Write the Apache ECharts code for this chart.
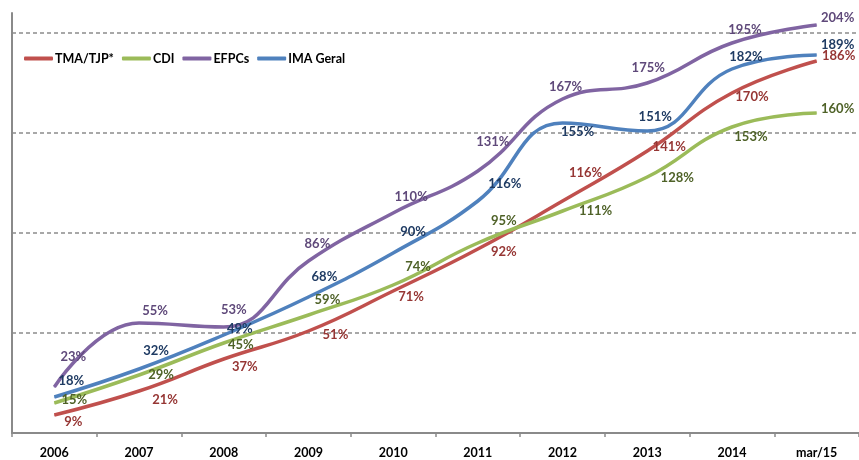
<!DOCTYPE html>
<html>
<head>
<meta charset="utf-8">
<script src="https://cdn.jsdelivr.net/npm/echarts@6/dist/echarts.min.js"></script>
<style>html,body{margin:0;padding:0;background:#fff}#c{width:859px;height:460px}</style>
</head>
<body>
<div id="c"></div>
<script>
const categories = ['2006','2007','2008','2009','2010','2011','2012','2013','2014','mar/15'];
const tma  = [9, 21, 37, 51, 71, 92, 116, 141, 170, 186];
const cdi  = [15, 29, 45, 59, 74, 95, 111, 128, 153, 160];
const efpc = [23, 55, 53, 86, 110, 131, 167, 175, 195, 204];
const ima  = [18, 32, 49, 68, 90, 116, 155, 151, 182, 189];

// label placement (style): centre offsets from each point, in px
const shifts = {
  tma:  [[19,7],[26,9],[21,8],[27,4],[18,6],[26,3],[23,-28],[22,-4],[20,4],[22,-5]],
  cdi:  [[20,-3],[22,0],[17,2],[19,-15],[25,-18],[26,-22],[33,0],[30,1],[19,10],[21,-4]],
  efpc: [[19,-30],[16,-12],[10,-17],[9,-17],[18,-16],[15,-29],[3,-12],[1,-15],[13,-13],[21,-7]],
  ima:  [[17,-16],[17,-18],[16,-6],[16,-20],[20,-21],[27,-17],[15,9],[8,-14],[14,-12],[21,-10]]
};

const FONT = 'Lato, "Open Sans", sans-serif';

function mk(name, vals, key, color, labelColor) {
  return {
    name: name,
    type: 'line',
    smooth: 0.45,
    clip: false,
    symbol: 'circle',
    symbolSize: 1,
    showSymbol: true,
    lineStyle: { color: color, width: 3.5 },
    itemStyle: { color: color },
    data: vals.map((v, i) => ({
      value: v,
      label: { offset: shifts[key][i] }
    })),
    label: {
      show: true,
      position: 'inside',
      formatter: '{c}%',
      color: labelColor,
      fontFamily: FONT,
      fontWeight: 'bold',
      fontSize: 13
    },
    emphasis: { disabled: true },
    z: 2
  };
}

const chart = echarts.init(document.getElementById('c'));
chart.setOption({
  animation: false,
  backgroundColor: '#fff',
  grid: { left: 12, right: -5, top: 13, bottom: 27, containLabel: false },
  legend: {
    left: 19, top: 47,
    icon: 'roundRect',
    itemWidth: 29, itemHeight: 4,
    itemGap: 8,
    textStyle: { color: '#000', fontFamily: FONT, fontWeight: 'bold', fontSize: 12.5, padding: [0, 0, 0, -3] },
    data: ['TMA/TJP*', 'CDI', 'EFPCs', 'IMA Geral']
  },
  xAxis: {
    type: 'category',
    data: categories,
    boundaryGap: true,
    axisLine: { lineStyle: { color: '#8a8a8a', width: 2 } },
    axisTick: { show: true, length: 4, lineStyle: { color: '#8a8a8a', width: 1.5 } },
    axisLabel: { color: '#000', fontFamily: FONT, fontWeight: 'bold', fontSize: 12.5, margin: 13 }
  },
  yAxis: {
    type: 'value',
    min: 0, max: 210, interval: 50,
    axisLine: { show: true, lineStyle: { color: '#8a8a8a', width: 2 } },
    axisTick: { show: false },
    axisLabel: { show: false },
    splitLine: {
      show: true,
      lineStyle: { color: ['rgba(0,0,0,0)', '#8c8c8c', '#8c8c8c', '#8c8c8c', '#8c8c8c', 'rgba(0,0,0,0)'], width: 1.5, type: [4, 3] }
    }
  },
  series: [
    mk('TMA/TJP*', tma, 'tma', '#C0504D', '#963634'),
    mk('CDI', cdi, 'cdi', '#9BBB59', '#4F6228'),
    mk('EFPCs', efpc, 'efpc', '#8064A2', '#5F497A'),
    mk('IMA Geral', ima, 'ima', '#4F81BD', '#1F3B63')
  ]
});
</script>
</body>
</html>
